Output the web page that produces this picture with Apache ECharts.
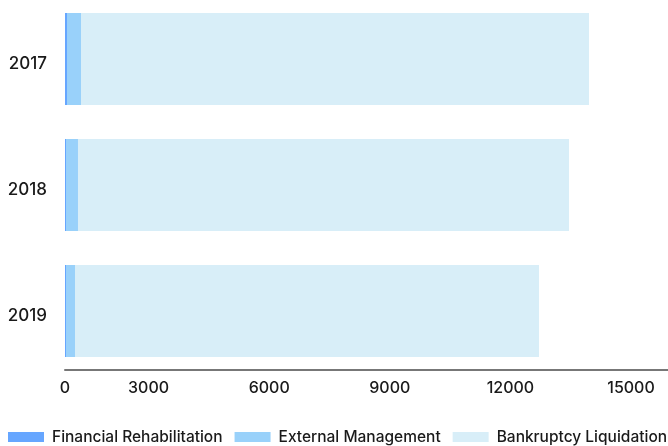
<!DOCTYPE html>
<html>
<head>
<meta charset="utf-8">
<script src="https://cdn.jsdelivr.net/npm/echarts@6/dist/echarts.min.js"></script>
<style>
html,body{margin:0;padding:0;background:#fff;}
#chart{width:668px;height:446px;}
</style>
</head>
<body>
<div id="chart"></div>
<script>
const categories = ['2017', '2018', '2019'];
const financialRehabilitation = [50, 25, 25];
const externalManagement = [348, 298, 224];
const bankruptcyLiquidation = [12637, 12214, 11542];
const seriesNames = ['Financial Rehabilitation', 'External Management', 'Bankruptcy Liquidation'];
const xTicks = { min: 0, max: 15000, interval: 3000 };

const chart = echarts.init(document.getElementById('chart'), null, { renderer: 'canvas' });
const font = 'Inter, "Noto Sans", sans-serif';
const colors = ['#66a6ff', '#99d1fa', '#d8eef8'];
const txt = '#1a1a1a';

chart.setOption({
  animation: false,
  color: colors,
  grid: { left: 65, right: 0, top: -4, height: 378, containLabel: false, outerBoundsMode: 'none' },
  legend: {
    bottom: 1,
    left: 8,
    padding: 0,
    itemWidth: 36,
    itemHeight: 10,
    itemGap: 12,
    icon: 'rect',
    textStyle: { fontFamily: font, fontSize: 15.5, fontWeight: 500, color: txt, padding: [2, 0, 0, 3] },
    data: seriesNames
  },
  xAxis: {
    type: 'value',
    min: xTicks.min,
    max: xTicks.max,
    interval: xTicks.interval,
    offset: -4,
    axisLine: { show: true, lineStyle: { color: '#777', width: 2 } },
    axisTick: { show: false },
    splitLine: { show: false },
    axisLabel: {
      margin: 10,
      fontFamily: font,
      fontSize: 16,
      fontWeight: 500,
      color: txt,
      formatter: function (v) { return v === 0 ? '{z|0}' : '{n|' + v + '}'; },
      rich: {
        z: { fontFamily: font, fontSize: 16, fontWeight: 500, color: txt },
        n: { fontFamily: font, fontSize: 16, fontWeight: 500, color: txt, padding: [0, 74, 0, 0] }
      }
    }
  },
  yAxis: {
    type: 'category',
    inverse: true,
    data: categories,
    axisLine: { show: false },
    axisTick: { show: false },
    axisLabel: {
      margin: 18,
      fontFamily: font,
      fontSize: 17,
      fontWeight: 500,
      color: txt,
      formatter: function (v) { return '{a|' + v + '}'; },
      rich: { a: { fontFamily: font, fontSize: 17, fontWeight: 500, color: txt, padding: [10, 0, 0, 0] } }
    }
  },
  series: [
    { name: seriesNames[0], type: 'bar', stack: 'total', barWidth: 92, data: financialRehabilitation },
    { name: seriesNames[1], type: 'bar', stack: 'total', barWidth: 92, data: externalManagement },
    { name: seriesNames[2], type: 'bar', stack: 'total', barWidth: 92, data: bankruptcyLiquidation }
  ]
});
</script>
</body>
</html>
